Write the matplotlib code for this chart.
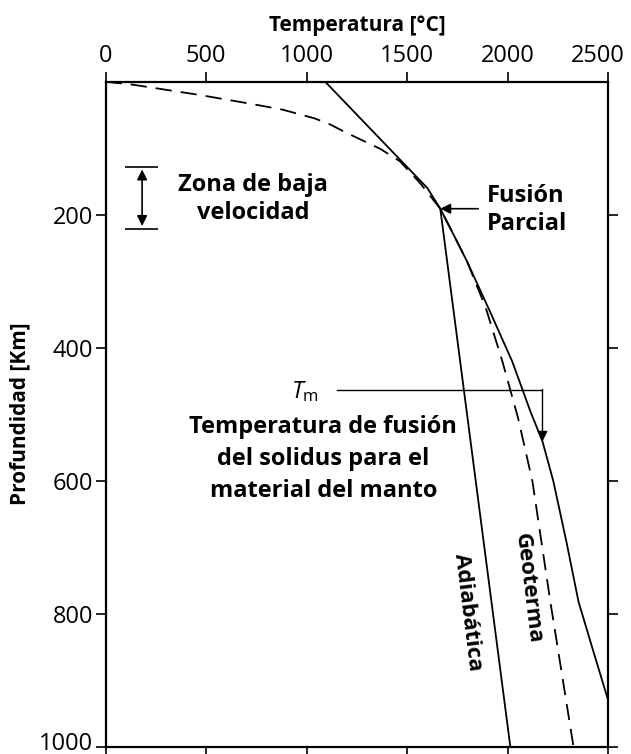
import numpy as np
import matplotlib
matplotlib.use("Agg")
import matplotlib.pyplot as plt
import matplotlib.transforms as mtransforms

plt.rcParams['font.family'] = ['Open Sans', 'DejaVu Sans']
plt.rcParams['mathtext.fontset'] = 'custom'
plt.rcParams['mathtext.it'] = 'Open Sans:italic'
plt.rcParams['mathtext.rm'] = 'Open Sans'

# Temperatura [°C] / profundidad [km]
solidus_t = [1092, 1530, 1600, 1664, 1730, 1798, 1910, 2022, 2112, 2172, 2226, 2291, 2351, 2425, 2500]
solidus_z = [0, 138, 160, 191, 230, 271, 345, 421, 496, 541, 601, 692, 782, 857, 932]

geoterma_t = [0, 137, 470, 719, 880, 1038, 1115, 1192, 1366, 1465, 1565, 1664,
              1730, 1798, 1890, 1973, 2050, 2122, 2211, 2326]
geoterma_z = [0, 4.5, 20, 33, 42, 55, 64, 76, 101, 120, 153, 191,
              230, 271, 340, 421, 505, 601, 782, 1000]

adiabata_t = [1664, 2012]
adiabata_z = [191, 1000]

zona_baja = [128, 221]  # limites de la zona de baja velocidad, km

x_ticks = [0, 500, 1000, 1500, 2000, 2500]
y_ticks = [200, 400, 600, 800, 1000]

fig = plt.figure(figsize=(6.31, 7.54), dpi=100)
ax = fig.add_axes([0.1672, 0.0099, 0.7971, 0.8817])

lw = 1.3
ax.plot(solidus_t, solidus_z, color='black', lw=lw)
ax.plot(geoterma_t, geoterma_z, color='black', lw=lw, ls=(0, (9, 5)))
ax.plot(adiabata_t, adiabata_z, color='black', lw=lw)

ax.set_xlim(0, 2500)
ax.set_ylim(1000, 0)

ax.set_xticks(x_ticks)
ax.set_yticks(y_ticks)
ax.xaxis.set_ticks_position('both')
ax.yaxis.set_ticks_position('both')
ax.tick_params(axis='x', which='both', top=True, labeltop=True, bottom=True,
               labelbottom=False, direction='out', length=7, width=1.2, labelsize=17, pad=3)
ax.tick_params(axis='y', which='both', left=True, right=True, labelleft=True,
               labelright=False, direction='out', length=7, width=1.2, labelsize=17, pad=2)
for s in ax.spines.values():
    s.set_linewidth(1.6)

# las etiquetas de los extremos van un poco hacia dentro, como en el original
top_labels = [tk.label2 for tk in ax.xaxis.get_major_ticks()]
top_labels[-1].set_transform(top_labels[-1].get_transform() +
                             mtransforms.ScaledTranslation(-0.11, 0, fig.dpi_scale_trans))
left_labels = [tk.label1 for tk in ax.yaxis.get_major_ticks()]
left_labels[-1].set_transform(left_labels[-1].get_transform() +
                              mtransforms.ScaledTranslation(0, 0.06, fig.dpi_scale_trans))

ax.xaxis.set_label_position('top')
ax.set_xlabel('Temperatura [°C]', fontsize=15, fontweight='bold', labelpad=9)
ax.set_ylabel('Profundidad [Km]', fontsize=15, fontweight='bold', labelpad=6)

txt = dict(fontsize=17, fontweight='bold')

# zona de baja velocidad
ax.hlines(zona_baja, 97, 261, color='black', lw=1.2)
ax.annotate('', xy=(182, zona_baja[0] + 4), xytext=(182, zona_baja[1] - 4),
            arrowprops=dict(arrowstyle='<|-|>', color='black', lw=1.2,
                            mutation_scale=15, shrinkA=0, shrinkB=0))
ax.text(735, 176, 'Zona de baja\nvelocidad', ha='center', va='center',
        linespacing=1.2, **txt)

# fusion parcial
ax.annotate('', xy=(adiabata_t[0], adiabata_z[0]), xytext=(1853, adiabata_z[0]),
            arrowprops=dict(arrowstyle='-|>', color='black', lw=1.2,
                            mutation_scale=15, shrinkA=0, shrinkB=0))
ax.text(1898, 193, 'Fusión\nParcial', ha='left', va='center', linespacing=1.25, **txt)

# Tm
tm_y = 463
tm_tip = (solidus_t[9], solidus_z[9])
ax.plot([1152, tm_tip[0]], [tm_y, tm_y], color='black', lw=1.0)
ax.annotate('', xy=tm_tip, xytext=(tm_tip[0], tm_y),
            arrowprops=dict(arrowstyle='-|>', color='black', lw=1.0,
                            mutation_scale=15, shrinkA=0, shrinkB=0))
ax.text(990, 466, r'$T_{\mathrm{m}}$', fontsize=17, ha='center', va='center')
ax.text(1082, 567, 'Temperatura de fusión\ndel solidus para el\nmaterial del manto',
        ha='center', va='center', linespacing=1.45, **txt)

ax.text(1799, 797, 'Adiabática', ha='center', va='center', rotation=-83,
        rotation_mode='anchor', fontsize=16, fontweight='bold')
ax.text(2102, 762, 'Geoterma', ha='center', va='center', rotation=-83,
        rotation_mode='anchor', fontsize=16, fontweight='bold')

fig.savefig('out.png', dpi=100)
